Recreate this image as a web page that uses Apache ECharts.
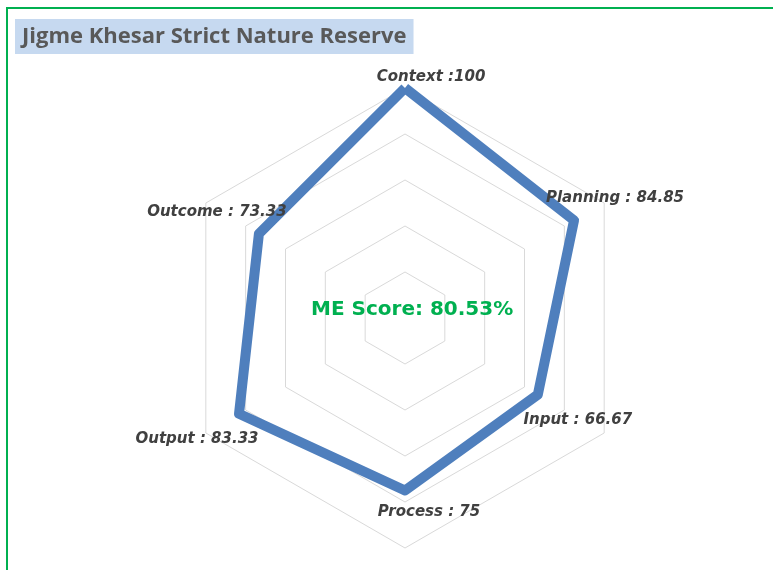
<!DOCTYPE html>
<html>
<head>
<meta charset="utf-8">
<script src="https://cdn.jsdelivr.net/npm/echarts@6/dist/echarts.min.js"></script>
<style>
  html, body { margin: 0; padding: 0; background: #fff; }
  #chart { width: 773px; height: 570px; }
</style>
</head>
<body>
<div id="chart"></div>
<script>
// indicators listed counter-clockwise from the top (radar default order)
var indicatorNames = ['Context', 'Outcome', 'Output', 'Process', 'Input', 'Planning'];
var scores = [100, 73.33, 83.33, 75, 66.67, 84.85];
var pointLabels = ['Context :100', 'Outcome : 73.33', 'Output : 83.33', 'Process : 75', 'Input : 66.67', 'Planning : 84.85'];
var titleText = 'Jigme Khesar Strict Nature Reserve';
var centerText = 'ME Score: 80.53%';

// where each point label sits relative to its point (px)
var labelOffsets = [[26, -11], [-42, -22], [-42, 25], [24, 22], [40, 25], [41, -22]];

var chart = echarts.init(document.getElementById('chart'));

var seriesList = [
    {
        type: 'radar',
        symbol: 'none',
        lineStyle: { color: '#4f7fbd', width: 10, join: 'round' },
        itemStyle: { color: '#4f7fbd' },
        data: [{ value: scores, name: 'Score' }],
        z: 3
    }
];

// one invisible series per label, so every label gets its own offset
pointLabels.forEach(function (txt, k) {
    seriesList.push({
        type: 'radar',
        symbol: 'circle',
        symbolSize: 1,
        silent: true,
        lineStyle: { opacity: 0 },
        itemStyle: { color: 'rgba(0,0,0,0)' },
        label: {
            show: true,
            position: 'inside',
            offset: labelOffsets[k],
            color: '#404040',
            fontFamily: 'DejaVu Sans',
            fontWeight: 'bold',
            fontStyle: 'italic',
            fontSize: 15,
            formatter: function (p) {
                var idx = p.dimensionIndex != null ? p.dimensionIndex : scores.indexOf(p.value);
                return idx === k ? txt : '';
            }
        },
        data: [{ value: scores, name: 'label' + k }],
        z: 4
    });
});

var option = {
    animation: false,
    backgroundColor: '#fff',
    title: [
        {
            text: titleText,
            left: 15,
            top: 19,
            padding: [4, 7],
            backgroundColor: '#c6d9f0',
            textStyle: { color: '#595959', fontFamily: 'Open Sans', fontWeight: 'bold', fontSize: 22, lineHeight: 27 }
        },
        {
            text: centerText,
            left: 311,
            top: 300,
            padding: 0,
            textStyle: { color: '#00b050', fontFamily: 'DejaVu Sans', fontWeight: 'bold', fontSize: 20 }
        }
    ],
    graphic: [
        {
            type: 'rect',
            shape: { x: 7, y: 8, width: 800, height: 600 },
            style: { fill: 'none', stroke: '#00b050', lineWidth: 2 },
            silent: true,
            z: -1
        }
    ],
    radar: {
        center: [405, 318],
        radius: 230,
        splitNumber: 5,
        shape: 'polygon',
        indicator: indicatorNames.map(function (n) { return { name: n, max: 100, min: 0 }; }),
        axisName: { show: false },
        axisLine: { show: false },
        axisTick: { show: false },
        axisLabel: { show: false },
        splitArea: { show: false },
        splitLine: { lineStyle: { color: '#d9d9d9', width: 1 } }
    },
    series: seriesList
};

chart.setOption(option);
</script>
</body>
</html>
